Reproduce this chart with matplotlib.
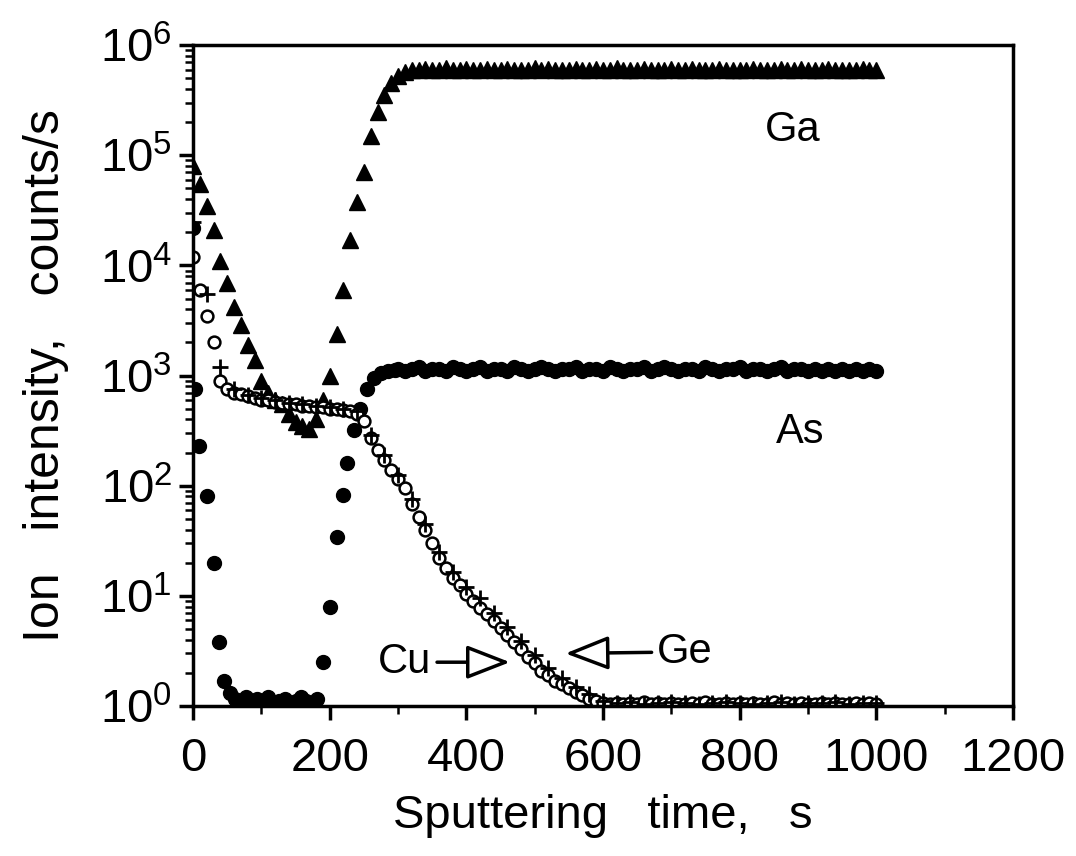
import matplotlib
matplotlib.use('Agg')
import matplotlib.pyplot as plt
from matplotlib.ticker import LogLocator, MultipleLocator, NullFormatter

plt.rcParams['font.family'] = ['Liberation Sans', 'DejaVu Sans']
plt.rcParams['mathtext.default'] = 'regular'

# sputtering time, s
t_ga = list(range(0, 1001, 10))
t_cu = list(range(0, 1001, 10))
t_ge = list(range(0, 1001, 20))
t_as = [0, 3, 8, 20, 31, 38, 46, 54, 62, 70, 78, 86, 94, 102, 110, 118, 126, 134, 142,
        150, 158, 166, 174, 182, 190, 200, 210, 219, 225, 235, 245, 255, 265, 275, 285,
        295] + list(range(300, 1001, 10))

# ion intensity, counts/s
ga = [8.0e4, 5.5e4, 3.5e4, 2.1e4, 1.1e4, 7.0e3, 4.2e3, 2.9e3, 1.9e3, 1.4e3,
      9.0e2, 7.0e2, 6.0e2, 5.5e2, 4.5e2, 3.8e2, 3.5e2, 3.3e2, 4.0e2, 6.0e2,
      1.0e3, 2.4e3, 6.0e3, 1.7e4, 3.8e4, 7.0e4, 1.5e5, 2.5e5, 3.5e5, 4.5e5,
      5.3e5, 5.7e5, 5.9e5,
      6.0e5, 6.1e5, 5.9e5, 6.0e5, 6.2e5, 6.0e5, 5.9e5, 6.1e5, 6.0e5, 6.0e5,
      6.1e5, 5.9e5, 6.0e5, 6.1e5, 6.0e5, 5.9e5, 6.0e5, 6.2e5, 6.0e5, 6.1e5,
      5.9e5, 6.0e5, 6.0e5, 6.1e5, 6.0e5, 5.9e5, 6.1e5, 6.0e5, 6.0e5, 6.2e5,
      6.0e5, 5.9e5, 6.0e5, 6.1e5, 6.0e5, 6.0e5, 5.9e5, 6.1e5, 6.0e5, 6.0e5,
      6.1e5, 6.0e5, 5.9e5, 6.0e5, 6.1e5, 6.0e5, 6.0e5, 5.9e5, 6.0e5, 6.1e5,
      6.0e5, 6.0e5, 5.9e5, 6.1e5, 6.0e5, 6.0e5, 6.1e5, 5.9e5, 6.0e5, 6.0e5,
      6.1e5, 6.0e5, 5.9e5, 6.0e5, 6.0e5, 6.1e5, 6.0e5, 6.0e5]

as_ = [2.2e4, 7.5e2, 2.3e2, 8.0e1, 2.0e1, 3.8, 1.7, 1.3, 1.15, 1.1,
       1.2, 1.05, 1.15, 1.1, 1.2, 1.05, 1.1, 1.15, 1.05, 1.1,
       1.2, 1.1, 1.05, 1.15, 2.5, 8.0, 3.4e1, 8.3e1, 1.6e2, 3.2e2,
       5.0e2, 7.5e2, 9.5e2, 1.05e3, 1.1e3, 1.12e3,
       1.15e3, 1.1e3, 1.15e3, 1.2e3, 1.1e3, 1.15e3, 1.15e3, 1.1e3, 1.2e3, 1.15e3,
       1.1e3, 1.15e3, 1.2e3, 1.1e3, 1.15e3, 1.15e3, 1.1e3, 1.2e3, 1.15e3, 1.1e3,
       1.15e3, 1.2e3, 1.15e3, 1.1e3, 1.15e3, 1.15e3, 1.2e3, 1.1e3, 1.15e3, 1.15e3,
       1.1e3, 1.2e3, 1.15e3, 1.1e3, 1.15e3, 1.15e3, 1.2e3, 1.1e3, 1.15e3, 1.2e3,
       1.15e3, 1.1e3, 1.15e3, 1.15e3, 1.1e3, 1.2e3, 1.15e3, 1.1e3, 1.15e3, 1.15e3,
       1.2e3, 1.1e3, 1.15e3, 1.15e3, 1.1e3, 1.15e3, 1.2e3, 1.1e3, 1.15e3, 1.15e3,
       1.1e3, 1.15e3, 1.1e3, 1.15e3, 1.1e3, 1.15e3, 1.1e3, 1.15e3, 1.1e3, 1.15e3,
       1.1e3]

cu = [1.2e4, 6.0e3, 3.5e3, 2.0e3, 9.0e2, 7.5e2, 7.0e2, 6.8e2, 6.5e2, 6.3e2,
      6.0e2, 6.0e2, 5.8e2, 5.7e2, 5.5e2, 5.5e2, 5.3e2, 5.3e2, 5.2e2, 5.2e2,
      5.0e2, 5.0e2, 4.9e2, 4.8e2, 4.5e2, 3.9e2, 2.7e2, 2.1e2, 1.7e2, 1.4e2,
      1.15e2, 9.5e1, 6.9e1, 5.2e1, 4.0e1, 3.0e1, 2.2e1, 1.8e1, 1.45e1, 1.25e1,
      1.05e1, 9.0, 7.8, 6.8, 5.9, 5.1, 4.4, 3.8, 3.3, 2.8,
      2.45, 2.1, 1.9, 1.7, 1.57, 1.45, 1.35, 1.25, 1.17, 1.1,
      1.06, 1.05, 1.07, 1.04, 1.06, 1.05, 1.08, 1.04, 1.06, 1.05,
      1.07, 1.05, 1.04, 1.06, 1.05, 1.08, 1.05, 1.04, 1.06, 1.05,
      1.07, 1.04, 1.06, 1.05, 1.05, 1.08, 1.04, 1.06, 1.05, 1.07,
      1.05, 1.04, 1.06, 1.05, 1.07, 1.05, 1.04, 1.06, 1.05, 1.06, 1.05]

ge = [2.5e4, 5.5e3, 1.2e3, 7.5e2, 6.6e2, 6.2e2, 6.0e2, 5.7e2, 5.5e2, 5.3e2,
      5.2e2, 5.0e2, 4.8e2, 2.9e2, 1.9e2, 1.25e2, 7.6e1, 4.5e1, 2.5e1, 1.65e1,
      1.2e1, 9.5, 7.0, 5.2, 3.9, 2.9, 2.2, 1.8, 1.5, 1.28,
      1.12, 1.06, 1.08, 1.05, 1.07, 1.08, 1.06, 1.05, 1.07, 1.08,
      1.06, 1.05, 1.07, 1.08, 1.05, 1.06, 1.07, 1.08, 1.05, 1.06, 1.07]

fig = plt.figure(figsize=(10.76, 8.56), dpi=100)
ax = fig.add_axes([0.1794, 0.1752, 0.762, 0.772])

ax.plot(t_ga, ga, ls='none', marker='^', ms=12, color='black')
ax.plot(t_as, as_, ls='none', marker='o', ms=10, color='black')
ax.plot(t_cu, cu, ls='none', marker='o', ms=8.5, mfc='white', mec='black', mew=1.8)
ax.plot(t_ge, ge, ls='none', marker='+', ms=12, mew=2, color='black')

ax.set_yscale('log')
ax.set_xlim(0, 1200)
ax.set_ylim(1, 1e6)
ax.xaxis.set_major_locator(MultipleLocator(200))
ax.xaxis.set_minor_locator(MultipleLocator(100))
ax.yaxis.set_major_locator(LogLocator(base=10, numticks=10))
ax.yaxis.set_minor_locator(LogLocator(base=10, subs=range(2, 10), numticks=10))
ax.yaxis.set_minor_formatter(NullFormatter())

for s in ax.spines.values():
    s.set_linewidth(2.5)
ax.tick_params(which='major', direction='out', length=10, width=2.5, labelsize=34)
ax.tick_params(axis='x', which='major', pad=12)
ax.tick_params(axis='y', which='major', pad=5)
ax.tick_params(which='minor', direction='out', length=6, width=1.8)

ax.set_xlabel('Sputtering   time,   s', fontsize=34, labelpad=10)
ax.set_ylabel('Ion   intensity,   counts/s', fontsize=36, labelpad=22)

ax.text(878, 1.7e5, 'Ga', fontsize=30, ha='center', va='center')
ax.text(888, 3.1e2, 'As', fontsize=30, ha='center', va='center')

arrow = dict(arrowstyle='-|>,head_length=0.9,head_width=0.35', fc='white', ec='black', lw=2.5)
ax.annotate('Cu', xy=(468, 2.5), xytext=(310, 2.5), fontsize=30, ha='center', va='center',
            arrowprops=arrow)
ax.annotate('Ge', xy=(541, 3.0), xytext=(720, 3.1), fontsize=30, ha='center', va='center',
            arrowprops=arrow)

fig.savefig('out.png', dpi=100)
